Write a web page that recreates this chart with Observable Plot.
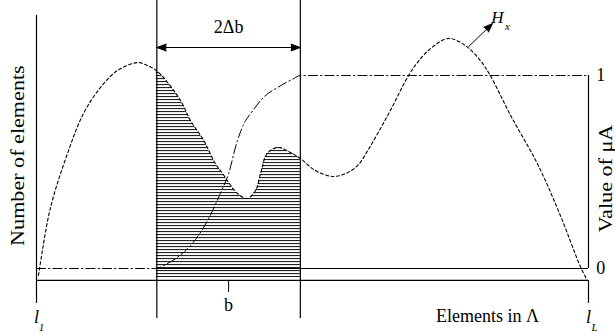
<!DOCTYPE html>
<html><head><meta charset="utf-8">
<script src="https://cdn.jsdelivr.net/npm/d3@7"></script>
<script src="https://cdn.jsdelivr.net/npm/@observablehq/plot@0.6"></script>
<style>body{margin:0;background:#fff} svg{display:block}</style>
</head><body><div id="chart"></div>
<script>
// Elements in Λ, from l1 = 0 to lL = 100 ; vertical unit: value of μA (0..1), counts on the same scale
const hX = [0.36,0.72,2.54,5.62,8.51,11.6,14.7,18.3,20.1,21.7,23.0,26.1,27.9,30.3,32.4,33.7,36.4,38.2,39.7,40.6,41.8,43.8,46.0,47.8,50.5,53.6,56.0,58.2,60.0,61.8,64.1,67.4,69.0,71.4,74.6,77.7,80.4,82.2,85.9,90.9,94.9,98.6,99.8];
const hCount = [-0.036,0.031,0.316,0.596,0.803,0.938,1.026,1.067,1.052,1.026,0.990,0.870,0.767,0.663,0.544,0.492,0.389,0.363,0.404,0.492,0.596,0.627,0.601,0.570,0.508,0.477,0.492,0.534,0.611,0.699,0.819,1.000,1.067,1.140,1.192,1.155,1.078,1.000,0.793,0.534,0.275,0.005,-0.062];
const muX = [0,21.6,23.4,25.5,28.4,31.0,33.3,34.8,36.4,37.9,38.8,41.1,43.7,46.6,47.8,100];
const muValue = [0,0,0.021,0.057,0.135,0.249,0.389,0.492,0.663,0.767,0.803,0.886,0.938,0.984,1,1];
const b = 34.8, deltaB = 13.0;
const muTicks = [0, 1];
const axisLevel = -0.062;

const H = hX.map((x, i) => ({x, y: hCount[i]}));
const MU = muX.map((x, i) => ({x, y: muValue[i]}));
const win = H.filter(d => d.x >= b - deltaB - 0.1 && d.x <= b + deltaB + 0.1);

const serif = "Liberation Serif";
const svg = Plot.plot({
  width: 615, height: 335,
  marginLeft: 36, marginRight: 27, marginTop: 75, marginBottom: 67,
  x: {domain: [0, 100], axis: null},
  y: {domain: [0, 1], axis: null},
  style: {background: "white", fontFamily: serif, fontSize: "18px", overflow: "visible"},
  marks: [
    Plot.areaY(win, {x: "x", y1: -0.047, y2: "y", fill: "url(#hatch)", curve: "catmull-rom"}),
    Plot.ruleX([0], {y1: -0.181, y2: 1.311, stroke: "black", strokeWidth: 1.2}),
    Plot.ruleX([100], {y1: 0, y2: 1, stroke: "black", strokeWidth: 1.2}),
    Plot.ruleX([100], {y1: axisLevel, y2: -0.181, stroke: "black", strokeWidth: 1.2}),
    Plot.ruleY([axisLevel], {x1: 0, x2: 100, stroke: "black", strokeWidth: 1.2}),
    Plot.ruleY([0], {x1: b - deltaB, x2: 100, stroke: "black", strokeWidth: 1.2}),
    Plot.ruleX([b - deltaB, b + deltaB], {y1: -0.259, y2: 1.389, stroke: "black", strokeWidth: 1.2}),
    Plot.ruleX([b], {y1: axisLevel, y2: -0.124, stroke: "black", strokeWidth: 1}),
    Plot.line(MU, {x: "x", y: "y", stroke: "black", strokeWidth: 1, strokeDasharray: "9,3,1.5,3", curve: "monotone-x"}),
    Plot.line(H, {x: "x", y: "y", stroke: "black", strokeWidth: 1.1, strokeDasharray: "3,2.5", curve: "catmull-rom"}),
    Plot.arrow([b - deltaB, b + deltaB], {x1: b, y1: 1.145, x2: d => d, y2: 1.145, stroke: "black", fill: "black", strokeWidth: 1, headLength: 15, headAngle: 40}),
    Plot.arrow([0], {x1: 78.3, y1: 1.150, x2: 82.6, y2: 1.269, stroke: "black", fill: "black", strokeWidth: 1, headLength: 14, headAngle: 42}),
    Plot.text(["2Δb"], {x: b, y: 1.249, fontFamily: serif, fontSize: 18}),
    Plot.text(["b"], {x: b, y: -0.192, fontFamily: serif, fontSize: 18}),
    Plot.text(["Elements in Λ"], {x: 81.7, y: -0.249, fontFamily: serif, fontSize: 18}),
    Plot.text(["l"], {x: 0, y: -0.254, fontFamily: serif, fontSize: 18, fontStyle: "italic"}),
    Plot.text(["1"], {x: 0.9, y: -0.306, fontFamily: serif, fontSize: 11, fontStyle: "italic"}),
    Plot.text(["l"], {x: 100, y: -0.254, fontFamily: serif, fontSize: 18, fontStyle: "italic"}),
    Plot.text(["L"], {x: 101.1, y: -0.306, fontFamily: serif, fontSize: 11, fontStyle: "italic"}),
    Plot.text(muTicks, {x: 101.4, y: d => d, text: d => String(d), textAnchor: "start", fontFamily: serif, fontSize: 18}),
    Plot.text(["H"], {x: 83.5, y: 1.30, fontFamily: serif, fontSize: 17, fontStyle: "italic"}),
    Plot.text(["x"], {x: 85.3, y: 1.255, fontFamily: serif, fontSize: 11, fontStyle: "italic"}),
    Plot.text(["Number of elements"], {x: -3.35, y: 0.585, rotate: -90, fontFamily: serif, fontSize: 18}),
    Plot.text(["Value of μA"], {x: 103.2, y: 0.466, rotate: -90, fontFamily: serif, fontSize: 18})
  ]
});

const s = d3.select(svg);
const defs = s.insert("defs", ":first-child");
const pat = defs.append("pattern").attr("id", "hatch").attr("patternUnits", "userSpaceOnUse")
  .attr("width", 8).attr("height", 3);
pat.append("rect").attr("x", 0).attr("y", 0).attr("width", 8).attr("height", 1.1).attr("fill", "#222");
s.selectAll("text").each(function() {
  const t = this.getAttribute("transform");
  if (t && t.includes("rotate")) this.setAttribute("transform", t + " scale(1.23,1)");
});
document.getElementById("chart").appendChild(svg);
</script>
</body></html>
